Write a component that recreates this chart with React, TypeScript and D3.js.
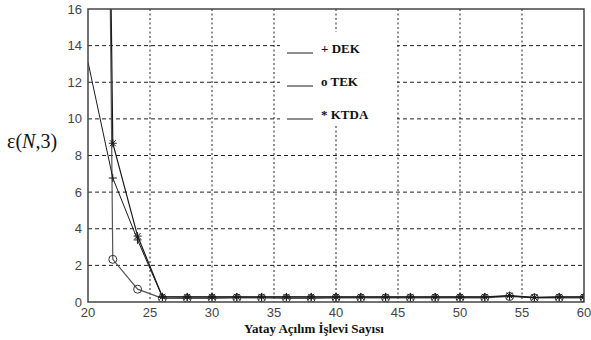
import React from "react";
import * as d3 from "d3";

// Number of horizontal expansion functions
const N = [20, 22, 24, 26, 28, 30, 32, 34, 36, 38, 40, 42, 44, 46, 48, 50, 52, 54, 56, 58, 60];

// Error ε(N,3) for each method
const dek = [13.1, 6.77, 3.39, 0.27, 0.27, 0.27, 0.27, 0.27, 0.27, 0.27, 0.27, 0.27, 0.27, 0.27, 0.27, 0.27, 0.27, 0.33, 0.24, 0.27, 0.27];
const tek = [140, 2.33, 0.7, 0.2, 0.2, 0.2, 0.22, 0.22, 0.2, 0.2, 0.22, 0.22, 0.22, 0.22, 0.22, 0.22, 0.22, 0.3, 0.22, 0.22, 0.22];
const ktda = [120, 8.67, 3.6, 0.29, 0.28, 0.28, 0.28, 0.28, 0.28, 0.28, 0.28, 0.28, 0.28, 0.28, 0.28, 0.28, 0.28, 0.35, 0.25, 0.28, 0.28];

const xTicks = [20, 25, 30, 35, 40, 45, 50, 55, 60];
const yTicks = [0, 2, 4, 6, 8, 10, 12, 14, 16];

const legendItems = ["+ DEK", "o TEK", "* KTDA"];

const W = 591;
const H = 340;
const plot = { left: 88, right: 584, top: 9, bottom: 302 };

export default function App() {
  const x = d3.scaleLinear().domain([20, 60]).range([plot.left, plot.right]);
  const y = d3.scaleLinear().domain([0, 16]).range([plot.bottom, plot.top]);

  const line = d3
    .line<[number, number]>()
    .x((d) => x(d[0]))
    .y((d) => y(d[1]));

  const pts = (vals: number[]) => N.map((n, i) => [n, vals[i]] as [number, number]);
  const stroke = "#1a1a1a";
  const tickFont = "Liberation Sans, Arial, sans-serif";
  const serif = "Liberation Serif, Times New Roman, serif";

  const plus = (cx: number, cy: number, k: string) => (
    <g key={k} stroke={stroke} strokeWidth={1}>
      <line x1={cx - 4} x2={cx + 4} y1={cy} y2={cy} />
      <line x1={cx} x2={cx} y1={cy - 4} y2={cy + 4} />
    </g>
  );
  const star = (cx: number, cy: number, k: string) => (
    <g key={k} stroke={stroke} strokeWidth={1}>
      <line x1={cx - 4} x2={cx + 4} y1={cy} y2={cy} />
      <line x1={cx} x2={cx} y1={cy - 4} y2={cy + 4} />
      <line x1={cx - 3} x2={cx + 3} y1={cy - 3} y2={cy + 3} />
      <line x1={cx - 3} x2={cx + 3} y1={cy + 3} y2={cy - 3} />
    </g>
  );
  const circ = (cx: number, cy: number, k: string) => (
    <circle key={k} cx={cx} cy={cy} r={4} fill="none" stroke="#333" strokeWidth={1} />
  );

  const markerPts = (vals: number[]) => pts(vals).filter((d) => d[0] > 20);

  return (
    <svg width={W} height={H} style={{ position: "absolute", left: 0, top: 0, background: "#fff" }}>
      <defs>
        <clipPath id="plotClip">
          <rect x={plot.left} y={plot.top} width={plot.right - plot.left} height={plot.bottom - plot.top} />
        </clipPath>
      </defs>

      {/* grid */}
      <g stroke="#222" strokeWidth={1}>
        {xTicks.slice(1, -1).map((t) => (
          <line key={"gx" + t} x1={x(t)} x2={x(t)} y1={plot.top} y2={plot.bottom} strokeDasharray="2,2.5" />
        ))}
        {yTicks.slice(1, -1).map((t) => (
          <line key={"gy" + t} x1={plot.left} x2={plot.right} y1={y(t)} y2={y(t)} strokeDasharray="4,3" />
        ))}
      </g>

      {/* legend box (opaque, no border) */}
      <rect x={280} y={32} width={117} height={94} fill="#fff" />
      {legendItems.map((t, i) => {
        const ly = 53 + i * 33;
        return (
          <g key={t}>
            <line x1={287} x2={313} y1={ly} y2={ly} stroke={stroke} strokeWidth={1} />
            <text x={321} y={ly} fontFamily={serif} fontWeight="bold" fontSize={13} fill="#111">
              {t}
            </text>
          </g>
        );
      })}

      {/* series */}
      <g clipPath="url(#plotClip)" fill="none">
        <path d={line(pts(tek)) ?? ""} stroke="#555" strokeWidth={1.2} />
        <path d={line(pts(ktda)) ?? ""} stroke={stroke} strokeWidth={1.2} />
        <path d={line(pts(dek)) ?? ""} stroke={stroke} strokeWidth={1} />
        {markerPts(tek).map((d, i) => circ(x(d[0]), y(d[1]), "c" + i))}
        {markerPts(dek).map((d, i) => plus(x(d[0]), y(d[1]), "p" + i))}
        {markerPts(ktda).map((d, i) => star(x(d[0]), y(d[1]), "s" + i))}
      </g>

      {/* axes box */}
      <rect
        x={plot.left}
        y={plot.top}
        width={plot.right - plot.left}
        height={plot.bottom - plot.top}
        fill="none"
        stroke="#444"
        strokeWidth={1.5}
      />

      {/* tick labels */}
      {xTicks.map((t) => (
        <text key={"xt" + t} x={x(t)} y={317} textAnchor="middle" fontFamily={tickFont} fontSize={13} fill="#444">
          {t}
        </text>
      ))}
      {yTicks.map((t) => (
        <text key={"yt" + t} x={82} y={y(t) + 4.5} textAnchor="end" fontFamily={tickFont} fontSize={13} fill="#444">
          {t}
        </text>
      ))}

      {/* axis titles */}
      <text x={314} y={333} textAnchor="middle" fontFamily={serif} fontWeight="bold" fontSize={13} fill="#111">
        Yatay Açılım İşlevi Sayısı
      </text>
      <text x={7} y={148} fontFamily={serif} fontSize={20} fill="#111">
        ε(<tspan fontStyle="italic">N</tspan>,3)
      </text>
    </svg>
  );
}
